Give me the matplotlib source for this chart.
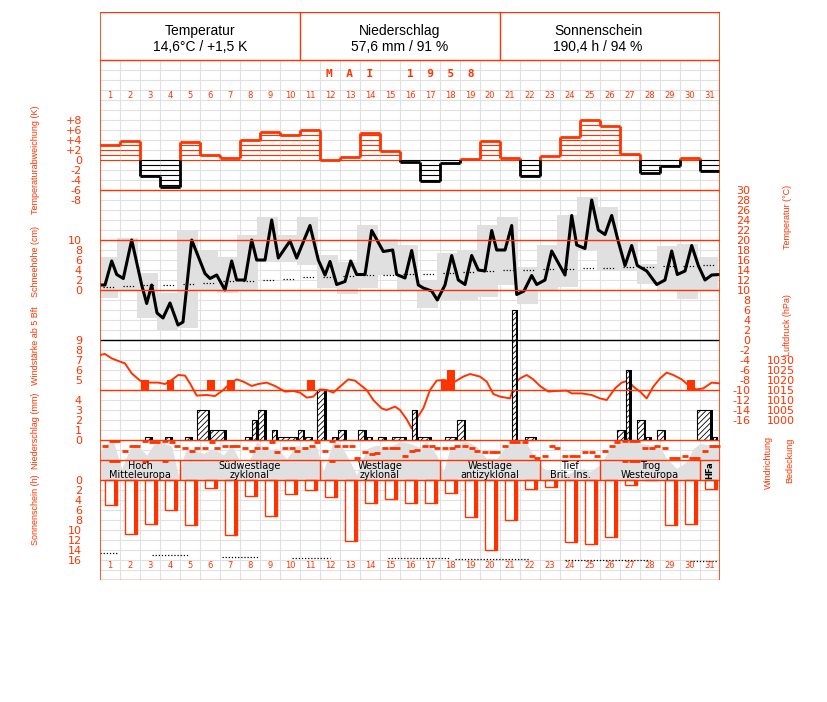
import matplotlib
matplotlib.use("Agg")
import matplotlib.pyplot as plt
import numpy as np

RED = "#ff3300"
GRID = "#e0e0e0"
SHADE = "#e0e0e0"
NARROW = ["DejaVu Sans Condensed", "Liberation Sans"]

days = list(range(1, 32))

head_titles = ["Temperatur", "Niederschlag", "Sonnenschein"]
head_values = ["14,6°C / +1,5 K", "57,6 mm / 91 %", "190,4 h / 94 %"]

# Temperaturabweichung (K), Tagesmittel
t_anom = [3.0, 3.9, -3.2, -5.3, 3.7, 1.1, 0.5, 4.0, 5.7, 5.1, 6.0, 0.0, 0.7, 5.5, 1.9, -0.3,
          -4.1, -0.5, 0.2, 3.9, 0.5, -3.2, 0.9, 4.7, 8.0, 6.8, 1.3, -2.5, -1.1, 0.4, -2.2]

# Temperaturverlauf (Zeit in Tagen, °C)
temp_x = [0.0, 0.25, 0.585, 0.835, 1.165, 1.585, 2.085, 2.335, 2.585, 2.85, 3.15, 3.5, 3.9, 4.15,
          4.585, 5.25, 5.5, 5.835, 6.25, 6.585, 6.835, 7.25, 7.585, 7.835, 8.25, 8.585, 8.915,
          9.5, 9.835, 10.5, 10.915, 11.25, 11.5, 11.835, 12.25, 12.535, 12.835, 13.25, 13.585,
          14.165, 14.635, 14.835, 15.25, 15.585, 15.915, 16.165, 16.585, 16.865, 17.25, 17.585,
          17.915, 18.25, 18.585, 18.915, 19.25, 19.585, 19.835, 20.25, 20.585, 20.835, 21.2,
          21.585, 21.835, 22.25, 22.585, 23.25, 23.585, 23.835, 24.25, 24.585, 24.915, 25.25,
          25.585, 25.915, 26.25, 26.585, 26.865, 27.335, 27.835, 28.25, 28.585, 28.865, 29.25,
          29.585, 29.915, 30.25, 30.585, 31.0]
temp_c = [11.0, 11.0, 15.8, 13.1, 12.3, 20.0, 11.0, 7.3, 11.0, 5.4, 4.4, 7.4, 3.0, 3.6,
          20.0, 13.3, 12.3, 13.0, 10.0, 15.8, 12.0, 12.0, 20.0, 16.0, 16.0, 24.0, 16.4,
          19.8, 16.4, 22.9, 16.0, 13.0, 15.7, 11.1, 11.7, 15.8, 13.1, 13.1, 21.9,
          17.7, 18.0, 13.1, 12.4, 17.9, 11.0, 10.4, 9.8, 8.0, 11.0, 16.9,
          12.0, 11.1, 16.9, 14.0, 13.8, 21.9, 18.0, 18.0, 22.9, 9.1, 9.8,
          12.9, 11.1, 12.0, 17.8, 13.0, 24.9, 19.0, 18.3, 28.0, 22.0, 21.1,
          24.9, 19.7, 14.9, 18.9, 14.9, 13.8, 11.1, 12.0, 17.8, 13.1, 13.8,
          18.9, 14.9, 12.0, 13.0, 13.1]

# Tagesextreme (°C)
t_max = [16.7, 20.3, 13.5, 9.5, 21.9, 18.0, 16.7, 21.0, 24.7, 21.0, 24.7, 17.0, 15.6, 23.0, 20.2, 19.0,
         12.0, 17.3, 18.0, 23.1, 24.7, 14.7, 19.0, 25.0, 28.7, 26.7, 19.7, 15.3, 18.9, 19.3, 16.7]
t_min = [8.4, 10.0, 4.5, 2.0, 2.5, 10.0, 9.4, 9.8, 15.7, 15.6, 15.0, 10.4, 9.2, 10.4, 13.0, 10.0,
         6.5, 8.0, 8.0, 8.7, 11.0, 7.3, 9.8, 10.7, 18.0, 14.0, 14.0, 11.3, 10.0, 8.3, 9.8]
# langjähriges Mittel (°C)
t_clim = [10.6, 10.8, 11.0, 11.1, 11.3, 11.5, 11.8, 11.9, 12.1, 12.3, 12.6, 12.7, 12.8, 13.0, 13.1, 13.2,
          13.3, 13.5, 13.6, 13.8, 14.0, 14.1, 14.2, 14.3, 14.4, 14.5, 14.6, 14.7, 14.8, 14.9, 15.0]

# Luftdruck (hPa)
p_x = [0.0, 0.25, 0.585, 1.0, 1.25, 1.585, 2.0, 2.5, 2.915, 3.25, 3.585, 3.915, 4.25, 4.5, 4.835,
       5.335, 5.75, 6.165, 6.5, 6.835, 7.165, 7.585, 7.915, 8.335, 8.75, 9.25, 9.665, 10.0, 10.335,
       10.665, 11.0, 11.335, 11.665, 12.0, 12.415, 12.75, 13.085, 13.335, 13.665, 14.085, 14.335,
       14.75, 15.0, 15.335, 15.585, 15.835, 16.165, 16.5, 16.835, 17.165, 17.75, 18.165, 18.5,
       19.0, 19.335, 19.665, 20.0, 20.5, 20.75, 21.0, 21.335, 21.665, 22.0, 22.415, 22.75, 23.335,
       23.585, 24.085, 24.585, 25.0, 25.335, 25.75, 26.085, 26.415, 26.665, 27.0, 27.335, 27.665,
       28.0, 28.335, 28.665, 29.085, 29.5, 29.835, 30.165, 30.585, 31.0]
p_hpa = [1032.5, 1033.0, 1030.8, 1029.2, 1028.3, 1023.3, 1019.7, 1018.7, 1018.7, 1018.0, 1020.0,
         1022.5, 1022.2, 1018.3, 1012.2, 1012.5, 1012.0, 1015.0, 1018.3, 1020.3, 1019.2, 1017.0,
         1018.0, 1018.7, 1017.0, 1014.2, 1014.5, 1013.7, 1011.2, 1011.7, 1015.3, 1015.0, 1013.7,
         1016.7, 1020.3, 1019.7, 1017.0, 1015.0, 1010.0, 1005.8, 1005.0, 1006.7, 1005.0, 1000.3,
         995.8, 1000.8, 1005.8, 1015.0, 1019.7, 1020.0, 1019.2, 1021.7, 1023.0, 1021.7, 1019.2,
         1013.0, 1011.7, 1010.8, 1018.3, 1020.8, 1022.5, 1020.3, 1017.0, 1014.2, 1014.5, 1014.7,
         1013.3, 1013.3, 1012.5, 1010.8, 1010.0, 1015.8, 1018.7, 1019.7, 1016.7, 1014.2, 1010.8,
         1016.7, 1020.8, 1023.7, 1022.5, 1020.3, 1016.7, 1015.3, 1015.8, 1018.7, 1018.3]

# Windstärke ab 5 Bft
wind_start = [2.035, 3.335, 5.335, 6.335, 10.335, 17.035, 17.365, 29.35]
wind_end = [2.465, 3.7, 5.75, 6.75, 10.75, 17.365, 17.75, 29.75]
wind_bft = [5, 5, 5, 5, 5, 5, 6, 5]

# Niederschlag (mm)
rain_start = [2.25, 3.25, 4.25, 4.835, 5.5, 7.25, 7.585, 7.915, 8.585, 8.915, 9.915, 10.25, 10.865,
              11.585, 11.915, 12.915, 13.335, 13.915, 14.585, 15.585, 15.915, 17.25, 17.865, 20.585,
              21.25, 25.865, 26.3, 26.865, 27.3, 27.865, 29.865, 30.63]
rain_end = [2.635, 3.635, 4.635, 5.5, 6.335, 7.585, 7.915, 8.335, 8.915, 9.915, 10.25, 10.665, 11.335,
            11.915, 12.335, 13.335, 13.665, 14.335, 15.335, 15.915, 16.585, 17.865, 18.3, 20.915,
            21.865, 26.3, 26.585, 27.3, 27.585, 28.3, 30.63, 30.915]
rain_mm = [0.3, 0.3, 0.3, 3.0, 1.0, 0.3, 2.0, 3.0, 1.0, 0.3, 1.0, 0.3, 5.0,
           0.3, 1.0, 1.0, 0.3, 0.3, 0.3, 3.0, 0.3, 0.3, 2.0, 13.0,
           0.3, 1.0, 7.0, 2.0, 0.3, 1.0, 3.0, 0.3]

# Bedeckung (Achtel)
cloud_x = [0.0, 0.333, 0.667, 1.083, 1.5, 1.833, 2.333, 2.667, 3.083, 3.583, 3.917, 4.333, 4.667,
           5.167, 5.667, 6.167, 6.583, 7.0, 7.333, 7.833, 8.333, 8.833, 9.333, 9.833, 10.333,
           10.833, 11.167, 11.667, 12.0, 12.5, 12.833, 13.333, 13.833, 14.333, 15.0, 15.5, 16.0,
           16.333, 16.833, 17.167, 17.5, 17.917, 18.333, 18.833, 19.333, 19.833, 20.333, 20.833,
           21.333, 21.667, 22.167, 22.667, 23.167, 23.667, 24.167, 24.5, 25.0, 25.5, 26.0, 26.5,
           27.0, 27.5, 28.0, 28.333, 28.833, 29.333, 29.667, 30.0, 30.5, 31.0]
cloud_octa = [5.7, 7.3, 7.8, 2.3, 6.3, 7.0, 5.0, 7.0, 7.7, 6.7, 1.0, 6.7, 6.0,
              5.3, 6.3, 5.0, 7.0, 3.7, 2.3, 7.7, 6.0, 6.3, 4.3, 7.0, 6.3,
              6.7, 1.7, 7.7, 7.3, 3.7, 1.0, 6.3, 7.0, 6.3, 7.7, 7.3, 6.5,
              7.7, 5.0, 1.7, 6.3, 7.3, 7.7, 6.7, 4.3, 4.3, 7.0, 7.8,
              7.3, 5.0, 2.3, 1.7, 1.0, 1.7, 2.3, 1.7, 3.0, 6.3, 7.7, 7.8,
              7.3, 7.0, 6.7, 4.3, 2.3, 3.7, 6.3, 7.3, 7.0, 6.3]

# Windrichtung (Grad), drei Termine je Tag
wind_dir = [[102, 18, 18], [198, 102, 102], [18, 42, 42], [18, 42, 102], [150, 198, 150],
            [138, 42, 150], [102, 102, 102], [138, 198, 150], [150, 42, 222], [150, 150, 198],
            [138, 102, 42], [198, 18, 102], [102, 102, 318], [222, 258, 240], [138, 138, 138],
            [282, 198, 180], [102, 102, 138], [138, 138, 102], [102, 138, 198], [222, 222, 222],
            [102, 42, 42], [42, 282, 318], [282, 102, 150], [282, 282, 282], [222, 222, 282],
            [198, 102, 42], [18, 18, 18], [138, 138, 102], [138, 318, 318], [282, 318, 318],
            [198, 102, 102]]
obs_times = [0.25, 0.58, 0.83]

# Großwetterlagen
wt_names = ["Hoch\nMitteleuropa", "Südwestlage\nzyklonal", "Westlage\nzyklonal",
            "Westlage\nantizyklonal", "Tief\nBrit. Ins.", "Trog\nWesteuropa", "HFa"]
wt_start = [0, 4, 11, 17, 22, 25, 30]
wt_end = [4, 11, 17, 22, 25, 30, 31]

# Sonnenschein (h)
sun_h = [5.0, 10.7, 8.8, 6.0, 9.0, 1.6, 11.0, 3.2, 7.2, 2.8, 2.0, 3.4, 12.2, 4.6, 3.8, 4.6,
         4.6, 2.6, 7.4, 14.0, 8.0, 1.8, 1.4, 12.4, 12.8, 11.4, 1.0, 0.0, 9.0, 8.8, 1.8]
poss_start = [0.0, 2.6, 6.1, 9.6, 14.4, 17.75, 23.25, 29.5]
poss_end = [0.9, 4.4, 7.9, 11.5, 17.5, 21.5, 27.5, 30.9]
poss_h = [14.6, 15.0, 15.4, 15.5, 15.6, 15.8, 16.0, 16.2]

# ---------------------------------------------------------------- layout
W, H = 827, 702
L, R, T, B = 100, 720, 12, 580
fig = plt.figure(figsize=(W / 100, H / 100), dpi=100)
rect = [L / W, 1 - B / H, (R - L) / W, (B - T) / H]


def layer(p0=0.0, k=-1.0):
    # value v lands on pixel row p0 - k*v
    a = fig.add_axes(rect)
    a.set_xlim(0, 31)
    a.set_ylim((p0 - B) / k, (p0 - T) / k)
    a.set_facecolor("none")
    for s in a.spines.values():
        s.set_visible(False)
    a.set_xticks([])
    a.set_yticks([])
    return a


def ticks(a, vals, labels, side="left", pad=13):
    a.set_yticks(vals)
    a.set_yticklabels(labels)
    if side == "right":
        a.yaxis.tick_right()
        for lab in a.get_yticklabels():
            lab.set_horizontalalignment("right")
    a.tick_params(axis="y", length=0, pad=pad, labelcolor=RED, labelsize=8)


def ftext(px, py, s, **kw):
    fig.text(px / W, 1 - py / H, s, **kw)


base = layer()
base.set_facecolor("white")
base.hlines(np.arange(60, 581, 10), 0, 31, color=GRID, lw=0.8)
base.vlines(np.arange(1, 31), 60, 580, color=GRID, lw=0.8)

# Bedeckung
cl = layer(480, 5)
cl.fill_between(cloud_x, 0, cloud_octa, color=SHADE, lw=0)

# Temperatur
tl = layer(340, 5)
box_left = [d - 1 - 1 / 6 for d in days]
tl.bar(box_left, np.array(t_max) - np.array(t_min), bottom=t_min, width=13 / 12,
       align="edge", color=SHADE, lw=0)
tl.hlines(t_clim, [d - 0.85 for d in days], [d - 0.25 for d in days],
          colors="black", linestyles=(0, (1, 1.5)), lw=0.9)
tl.plot(temp_x, temp_c, color="black", lw=2.2)
ticks(tl, list(range(-16, 31, 2)), [str(v) for v in range(-16, 31, 2)], side="right", pad=22)

# Temperaturabweichung
al = layer(160, 5)
for i, v in enumerate(t_anom):
    c = RED if v >= 0 else "black"
    sgn = 1 if v >= 0 else -1
    levels = [sgn * k for k in range(int(abs(v)) + 1)]
    al.hlines(levels, i, i + 1, color=c, lw=0.8)
    al.hlines(v, i, i + 1, color=c, lw=2)
for i in range(len(t_anom) - 1):
    a_, b_ = t_anom[i], t_anom[i + 1]
    lo, hi = min(a_, b_), max(a_, b_)
    if hi > 0:
        al.vlines(i + 1, max(lo, 0), hi, color=RED, lw=2)
    if lo < 0:
        al.vlines(i + 1, lo, min(hi, 0), color="black", lw=2)
ticks(al, list(range(-8, 9, 2)), ["%+d" % v if v else "0" for v in range(-8, 9, 2)])

# Schneehöhe (nur Skala)
sl = layer(290, 5)
ticks(sl, list(range(0, 11, 2)), [str(v) for v in range(0, 11, 2)])

# Luftdruck
pl = layer(2420, 2)
pl.plot(p_x, p_hpa, color=RED, lw=1.4)
ticks(pl, list(range(1000, 1031, 5)), [str(v) for v in range(1000, 1031, 5)], side="right", pad=54)

# Windstärke
wl = layer(430, 10)
wl.bar(wind_start, np.array(wind_bft) - 4, bottom=4, width=np.array(wind_end) - np.array(wind_start),
       align="edge", color=RED, lw=0)
ticks(wl, list(range(5, 10)), [str(v) for v in range(5, 10)])

# Niederschlag
plt.rcParams["hatch.linewidth"] = 0.6
rl = layer(440, 10)
rs, re, rm = np.array(rain_start), np.array(rain_end), np.array(rain_mm)
rl.bar(rs, rm, width=re - rs - 0.1, align="edge", facecolor="white", edgecolor="black",
       hatch="//////", lw=0.8)
rl.bar(re - 0.12, rm, width=0.12, align="edge", color="black", lw=0)
ticks(rl, list(range(0, 5)), [str(v) for v in range(0, 5)])

# Windrichtung
dl = layer(440, -1 / 18)
for i, obs in enumerate(wind_dir):
    for t, deg in zip(obs_times, obs):
        dl.plot(i + t, deg, marker="_", color=RED, ms=4, mew=2)
        if deg < 30:
            dl.plot(i + t, deg + 360, marker="_", color=RED, ms=4, mew=2)

# Sonnenschein
ul = layer(480, -5)
sun_left = [d - 0.75 for d in days]
ul.bar(sun_left, sun_h, width=0.58, align="edge", facecolor="white", edgecolor=RED, lw=1)
ul.bar([x + 0.43 for x in sun_left], sun_h, width=0.15, align="edge", color=RED, lw=0)
ul.hlines(poss_h, poss_start, poss_end, colors="black", linestyles=(0, (1, 1.5)), lw=0.9)
ticks(ul, list(range(0, 17, 2)), [str(v) for v in range(0, 17, 2)])

# ---------------------------------------------------------------- frame and texts
top = layer()
top.hlines([12, 60, 190, 240, 290, 390, 440, 460, 480, 580], 0, 31, color=RED, lw=1)
top.hlines(340, 0, 31, color="black", lw=1)
top.vlines([0, 31], 12, 580, color=RED, lw=1.2)
top.vlines([10, 20], 12, 60, color=RED, lw=1)
top.vlines(wt_start[1:], 460, 480, color=RED, lw=1)

for cx, t_, v_ in zip([5, 15, 24.9], head_titles, head_values):
    top.text(cx, 31, t_, ha="center", va="center", fontsize=10, family="Liberation Sans")
    top.text(cx, 47, v_, ha="center", va="center", fontsize=10, family="Liberation Sans")

top.text(15, 74, "M  A  I     1  9  5  8", ha="center", va="center", color=RED,
         fontsize=8, family="DejaVu Sans Mono", fontweight="bold")
for d in days:
    top.text(d - 0.5, 96, str(d), ha="center", va="center", color=RED, fontsize=6)
    top.text(d - 0.5, 566, str(d), ha="center", va="center", color=RED, fontsize=6)

for name, s, e in zip(wt_names, wt_start, wt_end):
    if e - s > 1:
        top.text((s + e) / 2, 470.5, name, ha="center", va="center", fontsize=7,
                 linespacing=0.95)
    else:
        top.text((s + e) / 2, 470, name, ha="center", va="center", fontsize=6,
                 rotation=90, fontweight="bold")

left_labels = [(36, 160, "Temperaturabweichung (K)"), (36, 262, "Schneehöhe (cm)"),
               (36, 346, "Windstärke ab 5 Bft"), (36, 431, "Niederschlag (mm)"),
               (36, 510, "Sonnenschein (h)")]
for px, py, s in left_labels:
    ftext(px, py, s, rotation=90, color=RED, fontsize=6.5, ha="center", va="center",
          family=NARROW, fontstretch="condensed")

right_labels = [(788, 217, "Temperatur (°C)"), (788, 325, "Luftdruck (hPa)"),
                (768, 462, "Windrichtung"), (790, 460, "Bedeckung")]
for px, py, s in right_labels:
    ftext(px, py, s, rotation=90, color=RED, fontsize=6.5, ha="center", va="center",
          family=NARROW, fontstretch="condensed")

fig.savefig("out.png", dpi=100)
